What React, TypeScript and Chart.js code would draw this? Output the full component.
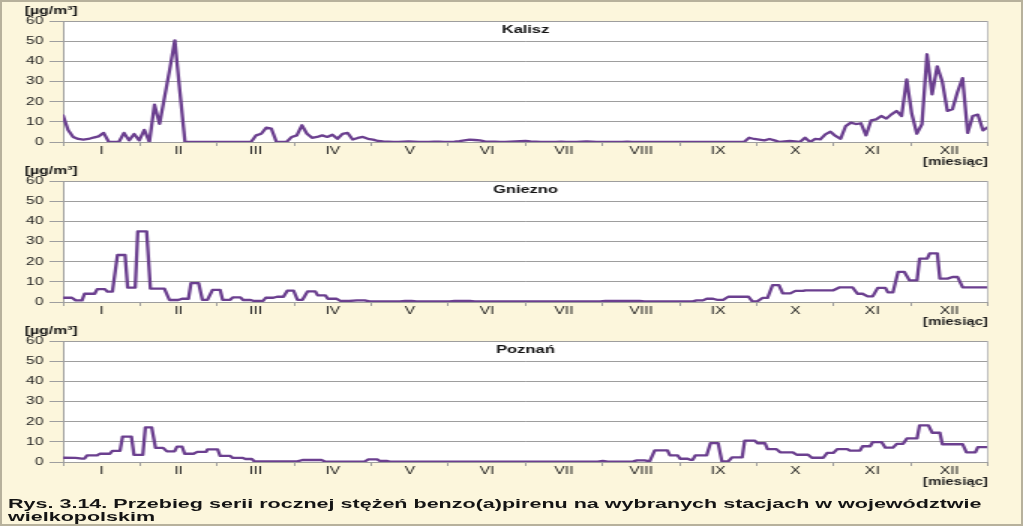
import React, { useEffect, useLayoutEffect, useRef } from 'react';
import { Chart, registerables } from 'chart.js';

Chart.register(...registerables);

// ---------- data ----------
const MONTHS = ['I', 'II', 'III', 'IV', 'V', 'VI', 'VII', 'VIII', 'IX', 'X', 'XI', 'XII'];
const UNIT_LABEL = '[µg/m³]';
const X_TITLE = '[miesiąc]';
const CAPTION_1 = 'Rys. 3.14. Przebieg serii rocznej stężeń benzo(a)pirenu na wybranych stacjach w województwie';
const CAPTION_2 = 'wielkopolskim';

// Kalisz – sample every 2nd day
const kaliszValues = [
  13.2, 6, 2.5, 1.5, 1.2, 1.5, 2.2, 2.8, 4.5, 0, 0, 0, 4.5, 0.8, 4, 0.8, 6, 0, 18.5, 9, 22.5, 36, 50.4, 25, 0,
  0, 0, 0, 0, 0, 0, 0, 0, 0, 0, 0, 0, 0,
  3.3, 4.1, 7.1, 6.6, 0, 0, 0, 2.5, 3.3, 8.3, 4.1, 2.1, 2.5, 3.3, 2.5, 3.6, 1.6, 4, 4.5, 1.2, 2, 2.5, 1.6, 1.2, 0.5, 0.3,
  0.2, 0.1, 0.1, 0.2, 0.3, 0.2, 0.1, 0.1, 0.1, 0.2, 0.2, 0.1, 0.1, 0.2, 0.4, 0.8, 1.2, 1.0, 0.8, 0.3,
  0.2, 0.2, 0.1, 0.1, 0.2, 0.3, 0.4, 0.5, 0.3, 0.2, 0.1, 0.1, 0.1, 0.1, 0.2, 0.1, 0.1, 0.1, 0.2, 0.3,
  0.2, 0.1, 0.1, 0.1, 0.1, 0.1, 0.1, 0.2, 0.1, 0.1, 0.1, 0.1, 0.1, 0.1, 0.1, 0.1, 0.1, 0.1, 0.1, 0.1,
  0.1, 0.1, 0.1, 0.1, 0.1, 0.1, 0.1, 0.1, 0.1, 0.1, 0.0,
  2.1, 1.5, 1.2, 0.8, 1.5, 0.8, 0, 0.3, 0.5, 0.3, 0, 2.1, 0, 1.5, 1.3, 3.8, 5.1, 3, 1.6, 7.9,
  9.6, 8.9, 9.3, 3.3, 10.7, 11.2, 12.9, 11.6, 13.7, 15.4, 12.9, 31, 14, 4.1, 8.8, 43.5, 23.6, 37.5, 30, 15.4,
  16.2, 24.8, 31.7, 4.5, 12.9, 13.6, 5.8, 7.4,
];
const kaliszDays = kaliszValues.map((_, i) => i * 2);

// Gniezno – multi-day composite samples (day of year, value)
const gnieznoDays = [
  0, 3.5, 5, 7.5, 8.5, 12.5, 13.5, 16.5, 17.5, 19.5, 21.5, 24.5, 25.5, 28.5, 29.5, 33, 34.5, 40, 42, 45.5,
  47, 49.5, 50.5, 53.5, 55, 57, 59, 62, 63, 66, 67, 70, 71, 74, 75, 79, 80, 83, 84.5, 87,
  88.5, 91, 92.5, 94.5, 96.5, 99.5, 100.5, 103.5, 104.5, 108, 109.5, 113, 116, 119, 121, 133, 135, 137.5, 139.5, 152.5,
  154.5, 160.5, 162.5, 212, 214, 227.5, 229.5, 248.5, 250, 252.5, 254, 256.5, 258, 260.5, 262.5, 270.5, 272, 274, 276, 278,
  280, 282.5, 284, 287, 289, 292, 293, 304, 306.5, 311.5, 313.5, 315.5, 317.5, 319.5, 321.5, 324.5, 325.5, 327.5, 329.5, 332,
  334, 337, 338, 341, 342, 345, 346, 349, 351, 353, 355, 365,
];
const gnieznoValues = [
  2.1, 2.1, 0.8, 0.8, 4.1, 4.1, 6.4, 6.4, 5.1, 5.1, 23.3, 23.3, 7.1, 7.1, 35, 35, 6.6, 6.6, 1, 1,
  1.6, 1.6, 9.4, 9.4, 1.1, 1.1, 6, 6, 1.1, 1.1, 2.3, 2.3, 1, 1, 0.6, 0.6, 2.1, 2.1, 2.6, 2.6,
  5.6, 5.6, 1.1, 1.1, 5.3, 5.3, 3.3, 3.3, 1.6, 1.6, 0.5, 0.5, 0.8, 0.8, 0.3, 0.3, 0.6, 0.6, 0.3, 0.3,
  0.5, 0.5, 0.3, 0.3, 0.5, 0.5, 0.3, 0.3, 0.8, 0.8, 1.6, 1.6, 1.1, 1.1, 2.6, 2.6, 0.3, 0.3, 2, 2,
  8.4, 8.4, 4.3, 4.3, 5.5, 5.5, 5.8, 5.8, 7.3, 7.3, 4.1, 4.1, 2.8, 2.8, 7, 7, 4.8, 4.8, 14.9, 14.9,
  10.7, 10.7, 21.5, 21.5, 24.1, 24.1, 11.6, 11.6, 12.4, 12.4, 7.3, 7.3,
];

// Poznań – multi-day composite samples (day of year, value)
const poznanDays = [
  0, 5, 7.5, 8.5, 9.5, 13.5, 14.5, 18.5, 19.5, 22.5, 23.5, 27, 28, 31.5, 32.5, 35, 36.5, 39.5, 41, 44,
  45, 47, 48, 51.5, 53, 56.5, 57, 61, 62, 66, 67, 71, 72, 74.5, 75.5, 92.5, 94.5, 102, 103.5, 119,
  120.5, 124, 125, 128, 129, 211, 213, 215, 225, 226.5, 229.5, 231.5, 233.5, 238.5, 239.5, 242.5, 243.5, 246.5, 247.5, 248.5,
  249.5, 254, 255.5, 258.5, 260, 262.5, 264, 268, 269, 273, 274, 277, 278, 281.5, 283, 288, 289.5, 294, 295.5, 300,
  301.5, 304, 305.5, 309.5, 310.5, 314.5, 315.5, 318.5, 319.5, 323, 324.5, 327.5, 329, 331.5, 333, 337, 338, 341.5, 343, 346,
  347, 355, 356.5, 360, 361, 365,
];
const poznanValues = [
  2.1, 2.0, 1.7, 1.7, 3.3, 3.3, 4.1, 4.1, 5.5, 5.5, 12.6, 12.6, 3.5, 3.5, 17.2, 17.2, 7, 7, 5.3, 5.3,
  7.6, 7.6, 4.1, 4.1, 5, 5, 6.3, 6.3, 3, 3, 2, 2, 1.5, 1.5, 0.3, 0.3, 1, 1, 0.2, 0.2,
  1.3, 1.3, 0.5, 0.5, 0.2, 0.2, 0.5, 0.2, 0.3, 0.8, 0.8, 0.3, 5.8, 5.8, 3.3, 3.3, 1.6, 1.6, 1.1, 1.1,
  3.3, 3.3, 9.4, 9.4, 0.3, 0.3, 2.3, 2.3, 10.6, 10.6, 9.3, 9.3, 6.4, 6.4, 4.8, 4.8, 3.6, 3.6, 2.1, 2.1,
  4.5, 4.5, 6.4, 6.4, 5.6, 5.6, 7.8, 7.8, 9.9, 9.9, 7.1, 7.1, 9, 9, 11.7, 11.7, 18.2, 18.2, 14.5, 14.5,
  8.8, 8.8, 4.8, 4.8, 7.4, 7.4,
];

const STATIONS = [
  { name: 'Kalisz', days: kaliszDays, values: kaliszValues, dayMax: 364 },
  { name: 'Gniezno', days: gnieznoDays, values: gnieznoValues, dayMax: 365 },
  { name: 'Poznań', days: poznanDays, values: poznanValues, dayMax: 365 },
];

// ---------- style ----------
const FONT = "'Liberation Sans', Arial, Helvetica, sans-serif";
const LINE_COLOR = '#6B3F8F';
const GRID_COLOR = '#9E9E9E';
const TEXT_COLOR = '#1C1C1C';
const BG = '#FCF6DC';
const CSS_W = 1023;
const STRETCH = 1.5;
const INNER_W = Math.round(CSS_W / STRETCH);
const CANVAS_H = 172;
const PANEL_STEP = 160;
const AREA_TOP = 21;
const AREA_BOTTOM = 142;
const AREA_LEFT = 42;
const AREA_RIGHT = 988 / STRETCH;

const decorPlugin = {
  id: 'panelDecor',
  beforeDraw(chart: any) {
    const { ctx, chartArea: a } = chart;
    ctx.save();
    ctx.fillStyle = '#FFFFFF';
    ctx.fillRect(a.left, a.top, a.right - a.left, a.bottom - a.top);
    ctx.restore();
  },
  afterDraw(chart: any, _args: any, opts: any) {
    const { ctx, chartArea: a } = chart;
    ctx.save();
    ctx.strokeStyle = '#BDBDBD';
    ctx.lineWidth = 1;
    const rx = Math.round(a.right) - 0.5;
    ctx.beginPath();
    ctx.moveTo(rx, a.top);
    ctx.lineTo(rx, a.bottom);
    ctx.stroke();
    ctx.fillStyle = '#111111';
    ctx.textBaseline = 'middle';
    ctx.textAlign = 'center';
    ctx.font = `bold 11px ${FONT}`;
    ctx.fillText(opts.station, (a.left + a.right) / 2, a.top + 9);
    ctx.textAlign = 'left';
    ctx.font = `bold 10.5px ${FONT}`;
    ctx.fillText(opts.unit, 16.5, 11);
    ctx.restore();
  },
};

function Panel({ station, index }: { station: any; index: number }) {
  const ref = useRef<HTMLCanvasElement | null>(null);
  useEffect(() => {
    const canvas = ref.current;
    if (!canvas) return;
    const chart = new Chart(canvas, {
      type: 'line',
      data: {
        labels: MONTHS,
        datasets: [
          {
            data: station.days.map((d: number, i: number) => ({ x: d, y: station.values[i] })),
            xAxisID: 'day',
            yAxisID: 'y',
            borderColor: LINE_COLOR,
            borderWidth: 2.3,
            pointRadius: 0,
            tension: 0,
            fill: false,
            borderJoinStyle: 'round',
            borderCapStyle: 'round',
          } as any,
        ],
      },
      options: {
        responsive: false,
        animation: false,
        devicePixelRatio: 1,
        events: [],
        layout: { padding: { top: AREA_TOP, right: INNER_W - AREA_RIGHT, left: 0, bottom: 0 } },
        plugins: {
          legend: { display: false },
          tooltip: { enabled: false },
          panelDecor: { station: station.name, unit: UNIT_LABEL },
        } as any,
        scales: {
          day: { type: 'linear', display: false, min: 0, max: station.dayMax, position: 'bottom' },
          x: {
            type: 'category',
            position: 'bottom',
            offset: true,
            min: 0,
            max: 11,
            grid: { display: true, offset: true, drawOnChartArea: false, tickLength: 4, color: GRID_COLOR },
            border: { display: true, color: GRID_COLOR },
            ticks: {
              padding: 0,
              autoSkip: false,
              maxRotation: 0,
              color: TEXT_COLOR,
              font: { family: FONT, size: 10.5, lineHeight: 1 },
            },
            title: {
              display: true,
              text: X_TITLE,
              align: 'end',
              color: TEXT_COLOR,
              font: { family: FONT, size: 10, weight: 'bold', lineHeight: 1 },
              padding: { top: 0, bottom: 5 },
            },
            afterFit: (s: any) => {
              s.height = CANVAS_H - AREA_BOTTOM;
            },
          },
          y: {
            type: 'linear',
            position: 'left',
            min: 0,
            max: 60,
            ticks: {
              stepSize: 10,
              padding: 4,
              color: TEXT_COLOR,
              font: { family: FONT, size: 10.5 },
            },
            grid: { color: GRID_COLOR, tickLength: 9, lineWidth: 1 },
            border: { display: true, color: GRID_COLOR },
            afterFit: (s: any) => {
              s.width = AREA_LEFT;
            },
          },
        } as any,
      },
      plugins: [decorPlugin],
    });
    return () => chart.destroy();
  }, [station]);

  return (
    <canvas
      ref={ref}
      width={INNER_W}
      height={CANVAS_H}
      style={{
        position: 'absolute',
        left: 0,
        top: index * PANEL_STEP,
        width: CSS_W,
        height: CANVAS_H,
        display: 'block',
      }}
    />
  );
}

export default function App() {
  const l1 = useRef<HTMLSpanElement | null>(null);
  const l2 = useRef<HTMLSpanElement | null>(null);
  useLayoutEffect(() => {
    if (!l1.current || !l2.current) return;
    const w = l1.current.offsetWidth;
    const k = w > 0 ? 974 / w : 1;
    l1.current.style.transform = `scaleX(${k})`;
    l2.current.style.transform = `scaleX(${k})`;
  }, []);

  const captionStyle: React.CSSProperties = {
    position: 'absolute',
    left: 8,
    display: 'inline-block',
    whiteSpace: 'nowrap',
    fontFamily: FONT,
    fontWeight: 'bold',
    fontSize: 13.5,
    lineHeight: '14px',
    color: '#141414',
    transformOrigin: '0 50%',
  };

  return (
    <div
      style={{
        position: 'absolute',
        left: 0,
        top: 0,
        width: CSS_W,
        height: 526,
        background: BG,
        boxShadow: 'inset 0 0 0 2px #B7B19C',
        overflow: 'hidden',
      }}
    >
      {STATIONS.map((s, i) => (
        <Panel key={s.name} station={s} index={i} />
      ))}
      <span ref={l1} style={{ ...captionStyle, top: 497 }}>
        {CAPTION_1}
      </span>
      <span ref={l2} style={{ ...captionStyle, top: 510 }}>
        {CAPTION_2}
      </span>
    </div>
  );
}
